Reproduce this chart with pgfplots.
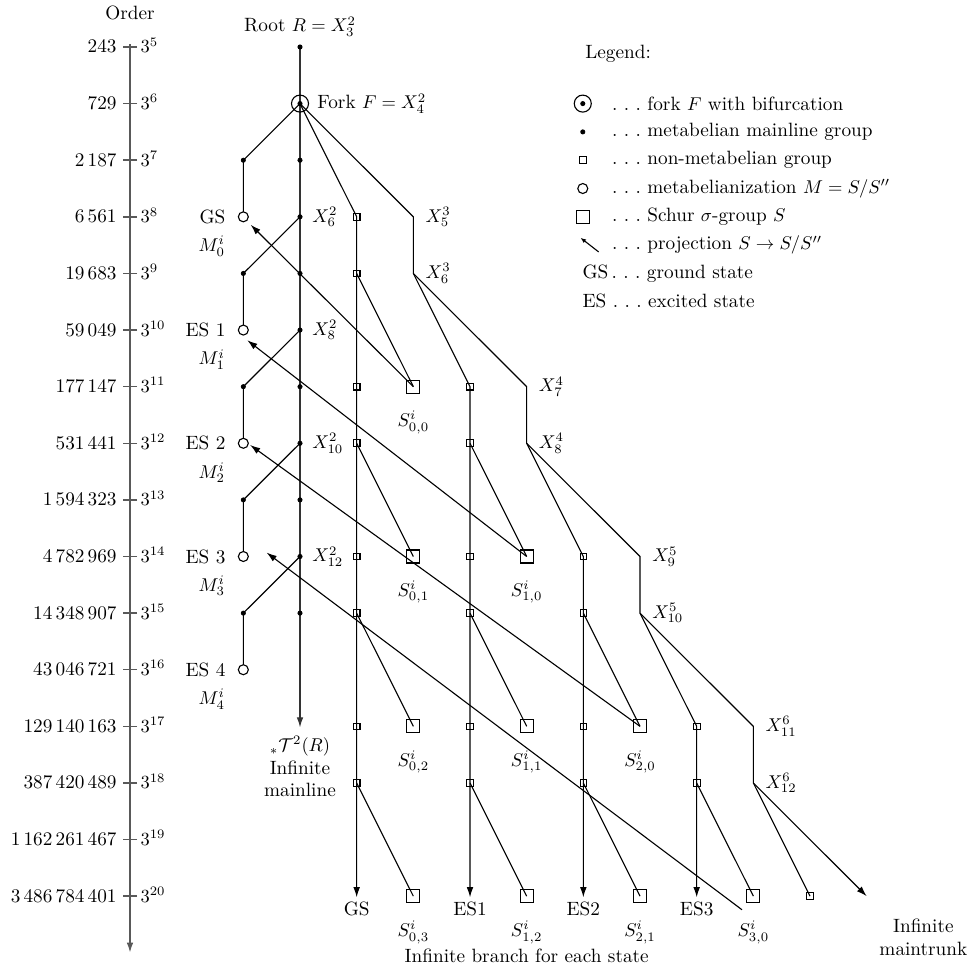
\documentclass[border=0pt]{standalone}
\usepackage{pgfplots}
\pgfplotsset{compat=1.18}
\usetikzlibrary{arrows.meta}
\tikzset{
  ln/.style={black, line width=0.6pt, mark=none},
  arr/.style={-{Latex[length=5.5pt,width=3.6pt]}},
}
\newcommand{\dd}{.\kern3.5pt.\kern3.5pt.}
\begin{document}
\begin{tikzpicture}[every node/.append style={inner sep=0pt, font=\fontsize{10.4pt}{12.5pt}\selectfont}]
\begin{axis}[
  x=30.63pt, y=30.6pt, y dir=reverse,
  xmin=-5.294, xmax=11.823, ymin=4.17, ymax=21.219,
  hide axis, clip=false,
]
% invisible frame for bounding box
\addplot[draw=none, mark=none, forget plot] coordinates {(-5.294,4.17) (11.823,21.219)};

% ---------------- order axis ----------------
\addplot[black!65, line width=0.9pt, mark=none, arr] coordinates {(-3,4.95) (-3,21.0)};
\addplot[only marks, mark=-, mark size=3.8pt, mark options={black!65, line width=0.8pt}] coordinates {
(-3,5) (-3,6) (-3,7) (-3,8) (-3,9) (-3,10) (-3,11) (-3,12) (-3,13) (-3,14) (-3,15) (-3,16) (-3,17) (-3,18) (-3,19) (-3,20)};
\node[anchor=center] at (axis cs:-3,4.40) {Order};
\node[anchor=base east] at (axis cs:-3.23,5.105) {243};
\node[anchor=base east] at (axis cs:-3.23,6.105) {729};
\node[anchor=base east] at (axis cs:-3.23,7.105) {2\,187};
\node[anchor=base east] at (axis cs:-3.23,8.105) {6\,561};
\node[anchor=base east] at (axis cs:-3.23,9.105) {19\,683};
\node[anchor=base east] at (axis cs:-3.23,10.105) {59\,049};
\node[anchor=base east] at (axis cs:-3.23,11.105) {177\,147};
\node[anchor=base east] at (axis cs:-3.23,12.105) {531\,441};
\node[anchor=base east] at (axis cs:-3.23,13.105) {1\,594\,323};
\node[anchor=base east] at (axis cs:-3.23,14.105) {4\,782\,969};
\node[anchor=base east] at (axis cs:-3.23,15.105) {14\,348\,907};
\node[anchor=base east] at (axis cs:-3.23,16.105) {43\,046\,721};
\node[anchor=base east] at (axis cs:-3.23,17.105) {129\,140\,163};
\node[anchor=base east] at (axis cs:-3.23,18.105) {387\,420\,489};
\node[anchor=base east] at (axis cs:-3.23,19.105) {1\,162\,261\,467};
\node[anchor=base east] at (axis cs:-3.23,20.105) {3\,486\,784\,401};
\node[anchor=base west] at (axis cs:-2.82,5.105) {$3^{5}$};
\node[anchor=base west] at (axis cs:-2.82,6.105) {$3^{6}$};
\node[anchor=base west] at (axis cs:-2.82,7.105) {$3^{7}$};
\node[anchor=base west] at (axis cs:-2.82,8.105) {$3^{8}$};
\node[anchor=base west] at (axis cs:-2.82,9.105) {$3^{9}$};
\node[anchor=base west] at (axis cs:-2.82,10.105) {$3^{10}$};
\node[anchor=base west] at (axis cs:-2.82,11.105) {$3^{11}$};
\node[anchor=base west] at (axis cs:-2.82,12.105) {$3^{12}$};
\node[anchor=base west] at (axis cs:-2.82,13.105) {$3^{13}$};
\node[anchor=base west] at (axis cs:-2.82,14.105) {$3^{14}$};
\node[anchor=base west] at (axis cs:-2.82,15.105) {$3^{15}$};
\node[anchor=base west] at (axis cs:-2.82,16.105) {$3^{16}$};
\node[anchor=base west] at (axis cs:-2.82,17.105) {$3^{17}$};
\node[anchor=base west] at (axis cs:-2.82,18.105) {$3^{18}$};
\node[anchor=base west] at (axis cs:-2.82,19.105) {$3^{19}$};
\node[anchor=base west] at (axis cs:-2.82,20.105) {$3^{20}$};

% ---------------- mainline ----------------
\addplot[black!80, line width=0.7pt, mark=none, arr] coordinates {(0,5) (0,17.02)};

% ---------------- metabelian branches to the left ----------------
\addplot[ln] coordinates {(0,6) (-1,7) (-1,8)};
\addplot[ln] coordinates {(0,8) (-1,9) (-1,10)};
\addplot[ln] coordinates {(0,10) (-1,11) (-1,12)};
\addplot[ln] coordinates {(0,12) (-1,13) (-1,14)};
\addplot[ln] coordinates {(0,14) (-1,15) (-1,16)};

% ---------------- maintrunk ----------------
\addplot[ln, arr] coordinates {(0,6) (2,8) (2,9) (4,11) (4,12) (6,14) (6,15) (8,17) (8,18) (10,20)};

% ---------------- infinite branches ----------------
\addplot[ln, arr] coordinates {(0,6) (1,8) (1,20.02)};
\addplot[ln, arr] coordinates {(2,9) (3,11) (3,20.02)};
\addplot[ln, arr] coordinates {(4,12) (5,14) (5,20.02)};
\addplot[ln, arr] coordinates {(6,15) (7,17) (7,20.02)};

% ---------------- edges to Schur sigma-groups ----------------
\addplot[ln] coordinates {(1,9) (2,11)};
\addplot[ln] coordinates {(1,12) (2,14)};
\addplot[ln] coordinates {(1,15) (2,17)};
\addplot[ln] coordinates {(1,18) (2,20)};
\addplot[ln] coordinates {(3,12) (4,14)};
\addplot[ln] coordinates {(3,15) (4,17)};
\addplot[ln] coordinates {(3,18) (4,20)};
\addplot[ln] coordinates {(5,15) (6,17)};
\addplot[ln] coordinates {(5,18) (6,20)};
\addplot[ln] coordinates {(7,18) (8,20)};
\addplot[ln] coordinates {(8,18) (9,20)};

% ---------------- projections S -> S/S'' ----------------
\addplot[ln, arr] coordinates {(2,11) (-0.87,8.14)};
\addplot[ln, arr] coordinates {(4,14) (-0.93,10.18)};
\addplot[ln, arr] coordinates {(6,17) (-0.88,12.03)};
\addplot[ln, arr] coordinates {(7.8,20.24) (-0.59,13.93)};

% ---------------- vertices ----------------
\addplot[only marks, mark=*, mark size=1.15pt] coordinates {
(0,5) (0,6) (0,7) (0,8) (0,9) (0,10) (0,11) (0,12) (0,13) (0,14) (0,15)
(-1,7) (-1,9) (-1,11) (-1,13) (-1,15)};
\addplot[only marks, mark=o, mark size=4.6pt, mark options={line width=0.6pt}] coordinates {(0,6)};
\addplot[only marks, mark=*, mark size=2.7pt, mark options={fill=white, draw=black, line width=0.6pt}] coordinates {
(-1,8) (-1,10) (-1,12) (-1,14) (-1,16)};
\addplot[only marks, mark=square, mark size=1.8pt, mark options={line width=0.55pt}] coordinates {
(1,8) (1,9) (1,11) (1,12) (1,14) (1,15) (1,17) (1,18)
(3,11) (3,12) (3,14) (3,15) (3,17) (3,18)
(5,14) (5,15) (5,17) (5,18)
(7,17) (7,18) (9,20)};
\addplot[only marks, mark=square, mark size=3.5pt, mark options={line width=0.6pt}] coordinates {
(2,11) (2,14) (2,17) (2,20) (4,14) (4,17) (4,20) (6,17) (6,20) (8,20)};

% ---------------- labels ----------------
\node at (axis cs:0,4.64) {Root $R=X_3^2$};
\node[anchor=west] at (axis cs:0.30,6) {Fork $F=X_4^2$};
\node[anchor=west] at (axis cs:0.21,8) {$X_6^2$};
\node[anchor=west] at (axis cs:0.21,10) {$X_8^2$};
\node[anchor=west] at (axis cs:0.21,12) {$X_{10}^2$};
\node[anchor=west] at (axis cs:0.21,14) {$X_{12}^2$};
\node[anchor=west] at (axis cs:2.21,8) {$X_5^3$};
\node[anchor=west] at (axis cs:2.21,9) {$X_6^3$};
\node[anchor=west] at (axis cs:4.21,11) {$X_7^4$};
\node[anchor=west] at (axis cs:4.21,12) {$X_8^4$};
\node[anchor=west] at (axis cs:6.21,14) {$X_9^5$};
\node[anchor=west] at (axis cs:6.21,15) {$X_{10}^5$};
\node[anchor=west] at (axis cs:8.21,17) {$X_{11}^6$};
\node[anchor=west] at (axis cs:8.21,18) {$X_{12}^6$};

\node[anchor=east] at (axis cs:-1.31,8) {GS};
\node[anchor=east] at (axis cs:-1.31,10) {ES~1};
\node[anchor=east] at (axis cs:-1.31,12) {ES~2};
\node[anchor=east] at (axis cs:-1.31,14) {ES~3};
\node[anchor=east] at (axis cs:-1.31,16) {ES~4};
\node[anchor=east] at (axis cs:-1.32,8.52) {$M_0^i$};
\node[anchor=east] at (axis cs:-1.32,10.52) {$M_1^i$};
\node[anchor=east] at (axis cs:-1.32,12.52) {$M_2^i$};
\node[anchor=east] at (axis cs:-1.32,14.52) {$M_3^i$};
\node[anchor=east] at (axis cs:-1.32,16.52) {$M_4^i$};

\node at (axis cs:2,11.63) {$S_{0,0}^i$};
\node at (axis cs:2,14.63) {$S_{0,1}^i$};
\node at (axis cs:2,17.63) {$S_{0,2}^i$};
\node at (axis cs:2,20.64) {$S_{0,3}^i$};
\node at (axis cs:4,14.63) {$S_{1,0}^i$};
\node at (axis cs:4,17.63) {$S_{1,1}^i$};
\node at (axis cs:4,20.64) {$S_{1,2}^i$};
\node at (axis cs:6,17.63) {$S_{2,0}^i$};
\node at (axis cs:6,20.64) {$S_{2,1}^i$};
\node at (axis cs:8,20.64) {$S_{3,0}^i$};

\node at (axis cs:1,20.22) {GS};
\node at (axis cs:3,20.22) {ES1};
\node at (axis cs:5,20.22) {ES2};
\node at (axis cs:7,20.22) {ES3};
\node at (axis cs:4.0,21.05) {Infinite branch for each state};
\node at (axis cs:11.0,20.53) {Infinite};
\node at (axis cs:11.0,20.94) {maintrunk};
\node at (axis cs:0,17.35) {${}_{\ast}\mathcal{T}^2(R)$};
\node at (axis cs:0,17.74) {Infinite};
\node at (axis cs:0,18.13) {mainline};

% ---------------- legend ----------------
\node[anchor=west] at (axis cs:5.03,5.12) {Legend:};
\addplot[only marks, mark=o, mark size=4.6pt, mark options={line width=0.6pt}] coordinates {(4.99,6.0)};
\addplot[only marks, mark=*, mark size=1.15pt] coordinates {(4.99,6.0) (4.99,6.5)};
\addplot[only marks, mark=square, mark size=1.8pt, mark options={line width=0.55pt}] coordinates {(4.99,7.0)};
\addplot[only marks, mark=o, mark size=2.7pt, mark options={line width=0.6pt}] coordinates {(4.99,7.5)};
\addplot[only marks, mark=square, mark size=3.5pt, mark options={line width=0.6pt}] coordinates {(4.99,8.0)};
\addplot[ln, -{Latex[length=3pt,width=2.4pt]}] coordinates {(5.27,8.62) (4.95,8.37)};
\node[anchor=west] at (axis cs:5.50,6.0) {\dd\ fork $F$ with bifurcation};
\node[anchor=west] at (axis cs:5.50,6.5) {\dd\ metabelian mainline group};
\node[anchor=west] at (axis cs:5.50,7.0) {\dd\ non-metabelian group};
\node[anchor=west] at (axis cs:5.50,7.5) {\dd\ metabelianization $M=S/S''$};
\node[anchor=west] at (axis cs:5.50,8.0) {\dd\ Schur $\sigma$-group $S$};
\node[anchor=west] at (axis cs:5.50,8.5) {\dd\ projection $S\rightarrow S/S''$};
\node[anchor=west] at (axis cs:4.98,9.0) {GS\,\dd\ ground state};
\node[anchor=west] at (axis cs:4.98,9.48) {ES \dd\ excited state};
\end{axis}
\end{tikzpicture}
\end{document}
